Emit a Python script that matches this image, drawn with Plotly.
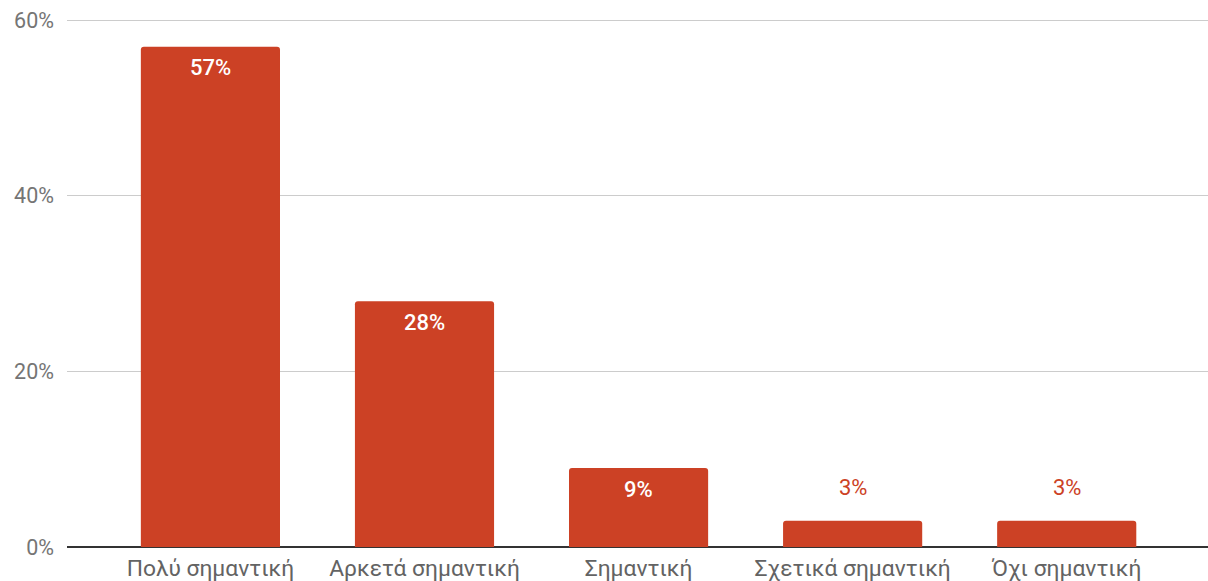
import plotly.graph_objects as go

categories = ["Πολύ σημαντική", "Αρκετά σημαντική", "Σημαντική", "Σχετικά σημαντική", "Όχι σημαντική"]
values = [57, 28, 9, 3, 3]
labels = ["57%", "28%", "9%", "3%", "3%"]
inside = [True, True, True, False, False]

bar_color = "#cc4125"

fig = go.Figure()
fig.add_trace(go.Bar(
    x=categories, y=values, width=0.65,
    marker=dict(color=bar_color, cornerradius=3, line=dict(width=0)),
    hoverinfo="skip",
))

for c, v, t, ins in zip(categories, values, labels, inside):
    fig.add_annotation(
        x=c, y=v, text=t, showarrow=False,
        yanchor="middle", yshift=-21 if ins else 33,
        font=dict(family="Roboto", size=22,
                  color="#ffffff" if ins else bar_color,
                  weight=500 if ins else "normal"),
    )

fig.update_layout(
    width=1208, height=581,
    margin=dict(l=67, r=0, t=19, b=34, autoexpand=False),
    paper_bgcolor="white", plot_bgcolor="white",
    showlegend=False,
    font=dict(family="Roboto", color="#636363"),
    xaxis=dict(
        range=[-0.67, 4.66], showgrid=False, showline=False, zeroline=False,
        tickfont=dict(size=22.8, color="#636363"), ticks="", ticklabelstandoff=5,
        automargin=False,
    ),
    yaxis=dict(
        range=[0, 60.15], tickvals=[0, 20, 40, 60], ticktext=["0%", "20%", "40%", "60%"],
        showgrid=True, gridcolor="#cccccc", gridwidth=1,
        zeroline=True, zerolinecolor="#333333", zerolinewidth=1.5,
        showline=False, ticks="", ticklabelstandoff=12,
        tickfont=dict(size=21.5, color="#757575"), automargin=False,
    ),
)

fig.write_html(
    "out.html",
    config={"displayModeBar": False, "staticPlot": True},
    post_script="document.body.style.margin='0';document.body.style.overflow='hidden';",
)
